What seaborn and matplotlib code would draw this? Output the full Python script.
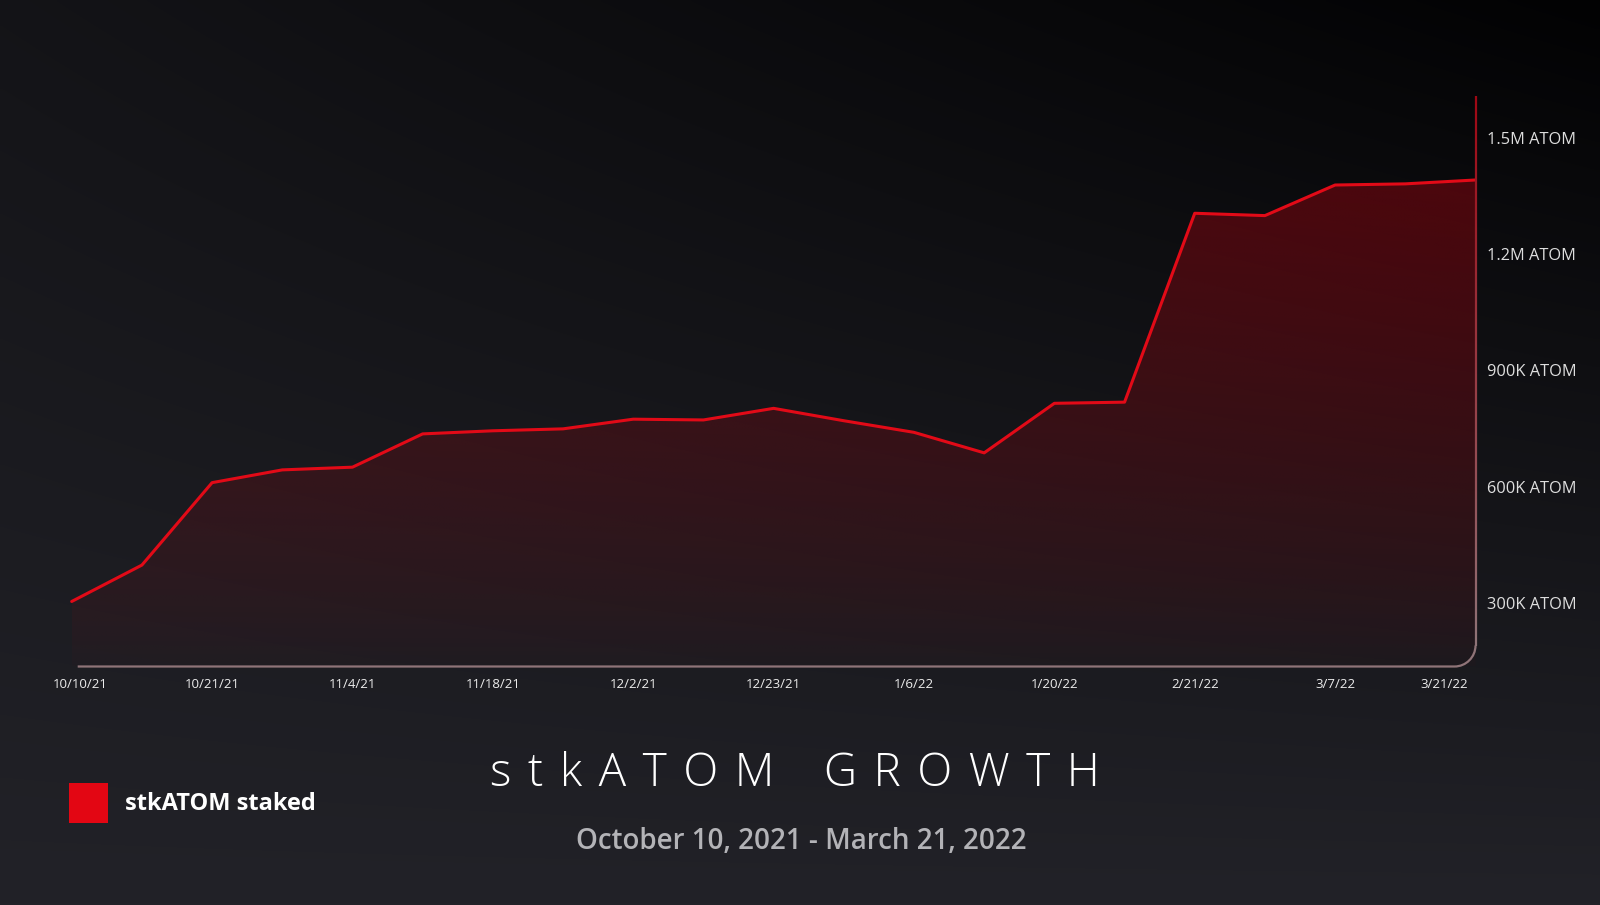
import numpy as np
import pandas as pd
import seaborn as sns
import matplotlib
matplotlib.use("Agg")
import matplotlib.pyplot as plt
import matplotlib.transforms as mtrans
from matplotlib.patches import Patch, PathPatch
from matplotlib.path import Path
from matplotlib.collections import LineCollection

# ---------------- data ----------------
staked_values = [303000, 397000, 610000, 643000, 650000, 736000, 744000, 749000,
                 774000, 772000, 802000, 770000, 740000, 687000, 815000, 818000,
                 1306000, 1300000, 1379000, 1382000, 1392000]
date_labels = ['10/10/21', '10/21/21', '11/4/21', '11/18/21', '12/2/21', '12/23/21',
               '1/6/22', '1/20/22', '2/21/22', '3/7/22', '3/21/22']
ytick_values = [300000, 600000, 900000, 1200000, 1500000]
ytick_labels = ['300K ATOM', '600K ATOM', '900K ATOM', '1.2M ATOM', '1.5M ATOM']
series_name = 'stkATOM staked'
title_words = ['stkATOM', 'GROWTH']
subtitle_text = 'October 10, 2021 - March 21, 2022'

sns.set_theme(style='white')
FONT = ['Open Sans', 'DejaVu Sans']
plt.rcParams['font.family'] = FONT

W, H = 1600, 905
fig = plt.figure(figsize=(W / 100, H / 100), dpi=100)

# ---------------- background gradient ----------------
bgax = fig.add_axes([0, 0, 1, 1])
bgax.axis('off')
ny, nx = 200, 320
yf = np.linspace(0, 1, ny)[:, None]   # 0 top -> 1 bottom
xf = np.linspace(0, 1, nx)[None, :]
t = yf + (1 - yf) * (1 - xf) * 0.55
t = np.clip(t, 0, 1)
dark = np.array([2, 2, 3]) / 255
light = np.array([34, 34, 40]) / 255
bg = dark[None, None, :] + (light - dark)[None, None, :] * t[:, :, None]
bgax.imshow(bg, extent=(0, 1, 0, 1), aspect='auto', origin='upper',
            interpolation='bilinear', zorder=0)
bgax.set_xlim(0, 1)
bgax.set_ylim(0, 1)

# ---------------- main axes ----------------
L_px, R_px, T_px, B_px = 71.7, 1475.5, 96.0, 666.5
ax = fig.add_axes([L_px / W, 1 - B_px / H, (R_px - L_px) / W, (B_px - T_px) / H])
ax.set_facecolor('none')
ax.patch.set_alpha(0)

ymin, ymax = 135000, 1609000
x = np.arange(len(staked_values))
df = pd.DataFrame({'idx': x, 'value': staked_values})

poly = ax.fill_between(x, ymin, staked_values, facecolor='none', edgecolor='none')

# gradient fill clipped to the area
gy, gx = 300, 300
vy = np.linspace(0, 1, gy)[:, None]
vx = np.linspace(0, 1, gx)[None, :]
alpha = (0.02 + 0.38 * vy ** 0.8) * (0.85 + 0.15 * vx)
rgba = np.zeros((gy, gx, 4))
rgba[..., 0] = 200 / 255
rgba[..., 1] = 2 / 255
rgba[..., 2] = 16 / 255
rgba[..., 3] = alpha
im = ax.imshow(rgba, origin='lower', extent=(0, len(x) - 1, ymin, ymax),
               aspect='auto', interpolation='bilinear', zorder=1)
im.set_clip_path(poly.get_paths()[0], ax.transData)

sns.lineplot(data=df, x='idx', y='value', ax=ax, color='#e20a17', linewidth=2.2,
             zorder=3, clip_on=False)

ax.set_xlim(0, len(x) - 1)
ax.set_ylim(ymin, ymax)
ax.set_xlabel('')
ax.set_ylabel('')
for s in ax.spines.values():
    s.set_visible(False)

ax.yaxis.tick_right()
ax.set_yticks(ytick_values)
ax.set_yticklabels(ytick_labels)
ax.tick_params(axis='y', length=0, pad=8, labelsize=11.8, labelcolor='#dedede')
ax.set_xticks(x[::2])
ax.set_xticklabels(date_labels)
ax.tick_params(axis='x', length=0, pad=8, labelsize=9.5, labelcolor='#ececec')
ax.grid(False)

xl = ax.get_xticklabels()
xl[0].set_transform(xl[0].get_transform() + mtrans.ScaledTranslation(9 / 100, 0, fig.dpi_scale_trans))
xl[-1].set_transform(xl[-1].get_transform() + mtrans.ScaledTranslation(-31 / 100, 0, fig.dpi_scale_trans))

# custom frame with rounded corner
aw, ah = R_px - L_px, B_px - T_px
rx, ry = 21 / aw, 21 / ah
x0 = 6 / aw
k = 0.45
frame = Path([(x0, 0), (1 - rx, 0), (1 - rx * k, 0), (1, ry * k), (1, ry)],
             [Path.MOVETO, Path.LINETO, Path.CURVE4, Path.CURVE4, Path.CURVE4])
ax.add_patch(PathPatch(frame, transform=ax.transAxes, fill=False,
                       edgecolor='#8f7478', lw=1.6, clip_on=False, zorder=4))
nseg = 150
ys = np.linspace(ry, 1, nseg + 1)
segs = [[(1, ys[i]), (1, ys[i + 1])] for i in range(nseg)]
cb = np.array([0.56, 0.455, 0.47])
ct = np.array([0.62, 0.03, 0.08])
fr = np.linspace(0, 1, nseg)[:, None] ** 0.9
cols = cb + (ct - cb) * fr
ax.add_collection(LineCollection(segs, colors=cols, linewidths=1.6,
                                 transform=ax.transAxes, clip_on=False, zorder=4))

# ---------------- legend & titles ----------------
leg = fig.legend(handles=[Patch(facecolor='#e30613', edgecolor='none', label=series_name)],
                 loc='center left', bbox_to_anchor=(69.3 / W, 1 - 803 / H),
                 frameon=False, borderpad=0, borderaxespad=0,
                 handlelength=1.62, handleheight=2.2, handletextpad=0.72,
                 prop=dict(family=FONT, weight='bold', size=17), labelcolor='white')

sp = ' \u200a'
title_text = (sp * 3).join(sp.join(list(w)) for w in title_words)
fig.text(794.5 / W, 1 - 774 / H, title_text, ha='center', va='center',
         fontsize=33, color='white', family=FONT, fontweight='light')
fig.text(801 / W, 1 - 841 / H, subtitle_text, ha='center', va='center',
         fontsize=20, color='#b3b3b7', family=FONT, fontweight='semibold')

fig.savefig('out.png', dpi=100)
